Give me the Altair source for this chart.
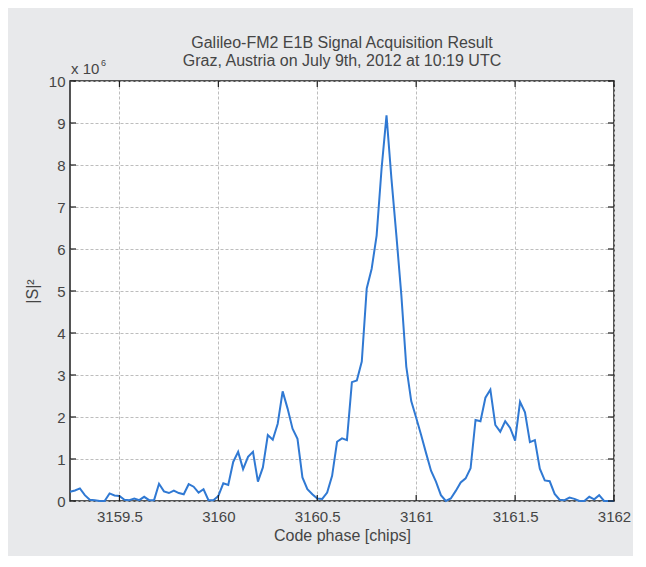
import altair as alt
import pandas as pd

TITLE_LINES = [
    "Galileo-FM2 E1B Signal Acquisition Result",
    "Graz, Austria on July 9th, 2012 at 10:19 UTC",
]
X_TITLE = "Code phase [chips]"
Y_TITLE = "|S|²"

CODE_PHASE = [
    3159.250, 3159.275, 3159.300, 3159.325, 3159.350, 3159.375, 3159.400, 3159.425, 3159.450, 3159.475,
    3159.500, 3159.525, 3159.550, 3159.575, 3159.600, 3159.625, 3159.650, 3159.675, 3159.700, 3159.725,
    3159.750, 3159.775, 3159.800, 3159.825, 3159.850, 3159.875, 3159.900, 3159.925, 3159.950, 3159.975,
    3160.000, 3160.025, 3160.050, 3160.075, 3160.100, 3160.125, 3160.150, 3160.175, 3160.200, 3160.225,
    3160.250, 3160.275, 3160.300, 3160.325, 3160.350, 3160.375, 3160.400, 3160.425, 3160.450, 3160.475,
    3160.500, 3160.525, 3160.550, 3160.575, 3160.600, 3160.625, 3160.650, 3160.675, 3160.700, 3160.725,
    3160.750, 3160.775, 3160.800, 3160.825, 3160.850, 3160.875, 3160.900, 3160.925, 3160.950, 3160.975,
    3161.000, 3161.025, 3161.050, 3161.075, 3161.100, 3161.125, 3161.150, 3161.175, 3161.200, 3161.225,
    3161.250, 3161.275, 3161.300, 3161.325, 3161.350, 3161.375, 3161.400, 3161.425, 3161.450, 3161.475,
    3161.500, 3161.525, 3161.550, 3161.575, 3161.600, 3161.625, 3161.650, 3161.675, 3161.700, 3161.725,
    3161.750, 3161.775, 3161.800, 3161.825, 3161.850, 3161.875, 3161.900, 3161.925, 3161.950, 3161.975,
    3162.000,
]

# |S|^2 in units of 10^6
S2_MILLIONS = [
    0.22, 0.25, 0.30, 0.14, 0.03, 0.02, 0.00, 0.00, 0.18, 0.13,
    0.12, 0.03, 0.02, 0.06, 0.02, 0.10, 0.02, 0.02, 0.41, 0.23,
    0.19, 0.25, 0.19, 0.16, 0.40, 0.34, 0.20, 0.28, 0.02, 0.02,
    0.12, 0.42, 0.38, 0.93, 1.17, 0.76, 1.05, 1.17, 0.46, 0.80,
    1.57, 1.46, 1.84, 2.61, 2.20, 1.72, 1.48, 0.56, 0.28, 0.16,
    0.06, 0.05, 0.20, 0.60, 1.41, 1.49, 1.45, 2.83, 2.87, 3.32,
    5.06, 5.53, 6.32, 7.91, 9.18, 7.67, 6.32, 4.90, 3.20, 2.38,
    1.98, 1.57, 1.14, 0.72, 0.46, 0.14, 0.00, 0.06, 0.24, 0.44,
    0.54, 0.78, 1.93, 1.90, 2.46, 2.65, 1.81, 1.65, 1.90, 1.74,
    1.44, 2.36, 2.11, 1.40, 1.45, 0.77, 0.49, 0.47, 0.17, 0.03,
    0.02, 0.08, 0.05, 0.00, 0.00, 0.10, 0.04, 0.14, 0.00, 0.00,
    0.00,
]

X_TICKS = [3159.5, 3160, 3160.5, 3161, 3161.5, 3162]
Y_TICKS = [0, 1, 2, 3, 4, 5, 6, 7, 8, 9, 10]
X_DOMAIN = [3159.25, 3162]
Y_DOMAIN = [0, 10]

W, H = 544, 420
FONT = "Liberation Sans"
TXT = "#454545"
GRID = "#bdbdbd"
LINE = "#3079d3"
FRAME = "#1e1e1e"
TICK_LEN = 6

df = pd.DataFrame({"phase": CODE_PHASE, "s2": S2_MILLIONS})
xt = pd.DataFrame({"phase": X_TICKS})
yt = pd.DataFrame({"s2": Y_TICKS})
one = pd.DataFrame({"a": [0]})

xscale = alt.Scale(domain=X_DOMAIN, nice=False, zero=False)
yscale = alt.Scale(domain=Y_DOMAIN, nice=False, zero=False)

common_axis = dict(
    tickSize=0, domain=False, grid=True, gridColor=GRID, gridDash=[3, 2], gridWidth=1,
    labelFont=FONT, titleFont=FONT, labelFontSize=15, titleFontSize=16,
    labelColor=TXT, titleColor=TXT, titleFontWeight="normal",
    labelFlush=False, labelOverlap=False,
)
xaxis = alt.Axis(values=X_TICKS, title=X_TITLE, labelExpr="'' + datum.value",
                 labelPadding=8, titlePadding=3, **common_axis)
yaxis = alt.Axis(values=Y_TICKS, title=Y_TITLE, labelPadding=5, titlePadding=8,
                 **common_axis)

line = alt.Chart(df).mark_line(color=LINE, strokeWidth=2).encode(
    x=alt.X("phase:Q", scale=xscale, axis=xaxis, title=X_TITLE),
    y=alt.Y("s2:Q", scale=yscale, axis=yaxis, title=Y_TITLE),
)

tick_style = dict(color=FRAME, strokeWidth=1.2)
bottom_ticks = alt.Chart(xt).mark_rule(**tick_style).encode(
    x=alt.X("phase:Q", scale=xscale, axis=xaxis, title=X_TITLE),
    y=alt.value(H), y2=alt.value(H - TICK_LEN))
top_ticks = alt.Chart(xt).mark_rule(**tick_style).encode(
    x=alt.X("phase:Q", scale=xscale, axis=xaxis, title=X_TITLE),
    y=alt.value(0), y2=alt.value(TICK_LEN))
left_ticks = alt.Chart(yt).mark_rule(**tick_style).encode(
    y=alt.Y("s2:Q", scale=yscale, axis=yaxis, title=Y_TITLE),
    x=alt.value(0), x2=alt.value(TICK_LEN))
right_ticks = alt.Chart(yt).mark_rule(**tick_style).encode(
    y=alt.Y("s2:Q", scale=yscale, axis=yaxis, title=Y_TITLE),
    x=alt.value(W), x2=alt.value(W - TICK_LEN))

exp_base = alt.Chart(one).mark_text(text="x 10", align="left", baseline="alphabetic",
                                     font=FONT, fontSize=15, color=TXT).encode(
    x=alt.value(1), y=alt.value(-7))
exp_sup = alt.Chart(one).mark_text(text="6", align="left", baseline="alphabetic",
                                    font=FONT, fontSize=9, color=TXT).encode(
    x=alt.value(31), y=alt.value(-15))

chart = alt.layer(
    line, bottom_ticks, top_ticks, left_ticks, right_ticks, exp_base, exp_sup
).properties(
    width=W, height=H,
    title=alt.TitleParams(TITLE_LINES, font=FONT, fontSize=16, fontWeight="normal",
                          color=TXT, anchor="middle", offset=-10, lineHeight=18),
    background="#e8e9eb",
    padding={"left": 62, "top": 73, "right": 19, "bottom": 55},
    autosize=alt.AutoSizeParams(type="none"),
).configure_view(
    stroke=FRAME, strokeWidth=1.5, fill="white"
)

chart.save("out.html", embed_options={"renderer": "svg", "actions": False})
